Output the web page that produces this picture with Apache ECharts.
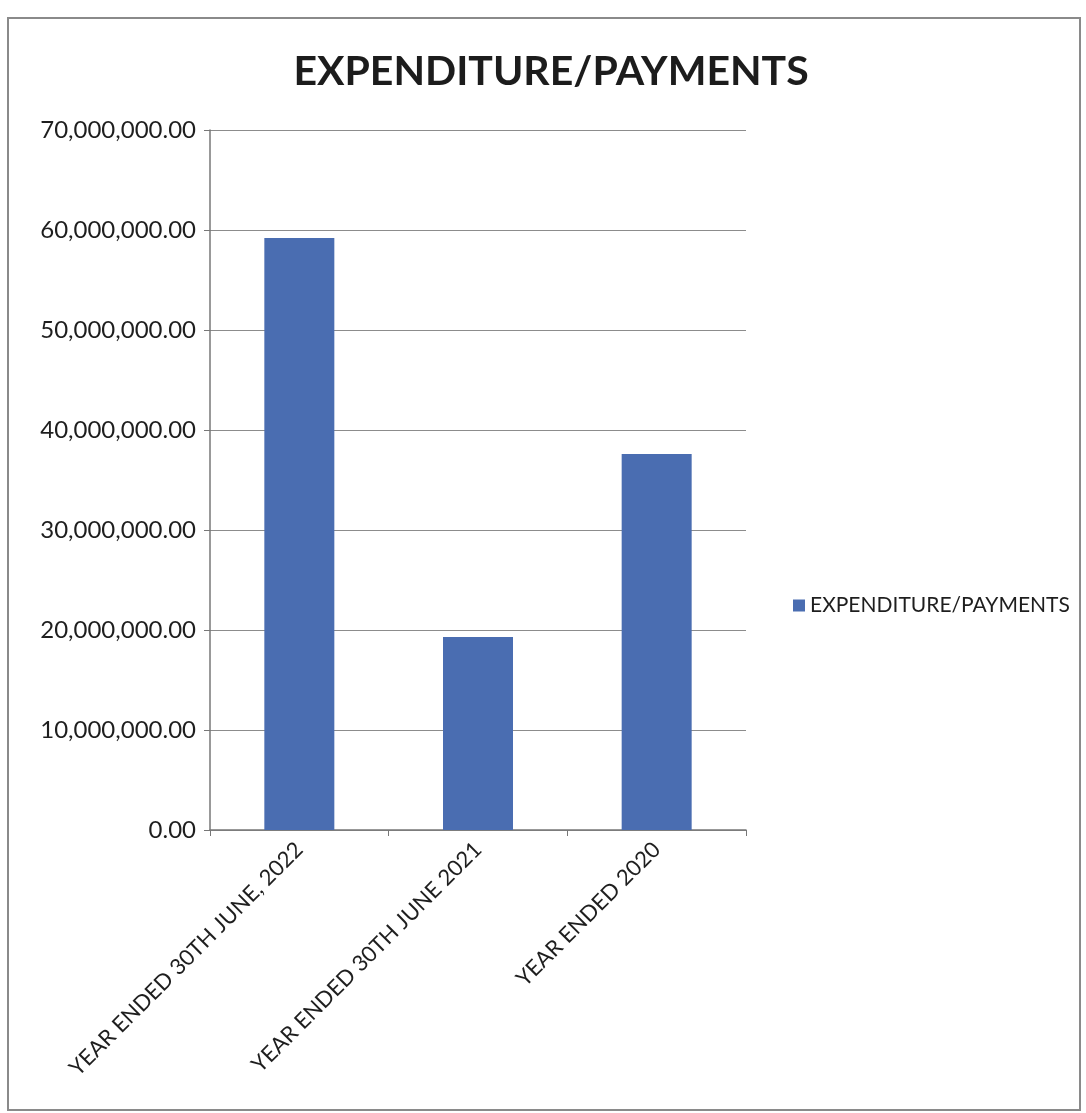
<!DOCTYPE html>
<html>
<head>
<meta charset="utf-8">
<script src="https://cdn.jsdelivr.net/npm/echarts@6/dist/echarts.min.js"></script>
<style>
  html, body { margin: 0; padding: 0; background: #ffffff; }
  #chart { width: 1086px; height: 1113px; }
</style>
</head>
<body>
<div id="chart"></div>
<script>
// Expenditure / payments by reporting year
const categories = ['YEAR ENDED 30TH JUNE, 2022', 'YEAR ENDED 30TH JUNE 2021', 'YEAR ENDED 2020'];
const expenditure = [59200000, 19300000, 37600000];
const seriesName = 'EXPENDITURE/PAYMENTS';

const FONT = 'Lato, "Open Sans", sans-serif';
const chart = echarts.init(document.getElementById('chart'));

chart.setOption({
  backgroundColor: '#ffffff',
  animation: false,
  graphic: [{
    type: 'rect',
    shape: { x: 8, y: 18, width: 1072, height: 1092 },
    style: { fill: 'none', stroke: '#8a8a8a', lineWidth: 2 },
    silent: true
  }],
  title: {
    text: 'EXPENDITURE/PAYMENTS',
    left: 546, top: 46, textAlign: 'center',
    textStyle: { fontFamily: FONT, fontWeight: 'bold', fontSize: 41, color: '#1c1c1c' }
  },
  legend: {
    orient: 'vertical',
    left: 788, top: 590,
    itemWidth: 12, itemHeight: 12, itemGap: 6,
    icon: 'rect',
    textStyle: { fontFamily: FONT, fontSize: 21, color: '#1e1e1e' },
    data: [seriesName]
  },
  grid: { left: 210, right: 340, top: 130, bottom: 283, containLabel: false },
  xAxis: {
    type: 'category',
    data: categories,
    boundaryGap: true,
    axisLine: { lineStyle: { color: '#777', width: 1.5 } },
    axisTick: { show: true, length: 6, alignWithLabel: false, lineStyle: { color: '#777' } },
    axisLabel: {
      rotate: 45, interval: 0, margin: 16,
      fontFamily: FONT, fontSize: 22, color: '#1e1e1e'
    }
  },
  yAxis: {
    type: 'value',
    min: 0, max: 70000000, interval: 10000000,
    axisLine: { show: true, lineStyle: { color: '#777', width: 1.5 } },
    axisTick: { show: true, length: 6, lineStyle: { color: '#777' } },
    splitLine: { lineStyle: { color: '#8c8c8c', width: 1.2 } },
    axisLabel: {
      margin: 14, fontFamily: FONT, fontSize: 24, color: '#1e1e1e',
      formatter: v => v.toLocaleString('en-US', { minimumFractionDigits: 2, maximumFractionDigits: 2 })
    }
  },
  series: [{
    name: seriesName,
    type: 'bar',
    data: expenditure,
    barWidth: 70,
    itemStyle: { color: '#4a6db1' }
  }]
});
</script>
</body>
</html>
